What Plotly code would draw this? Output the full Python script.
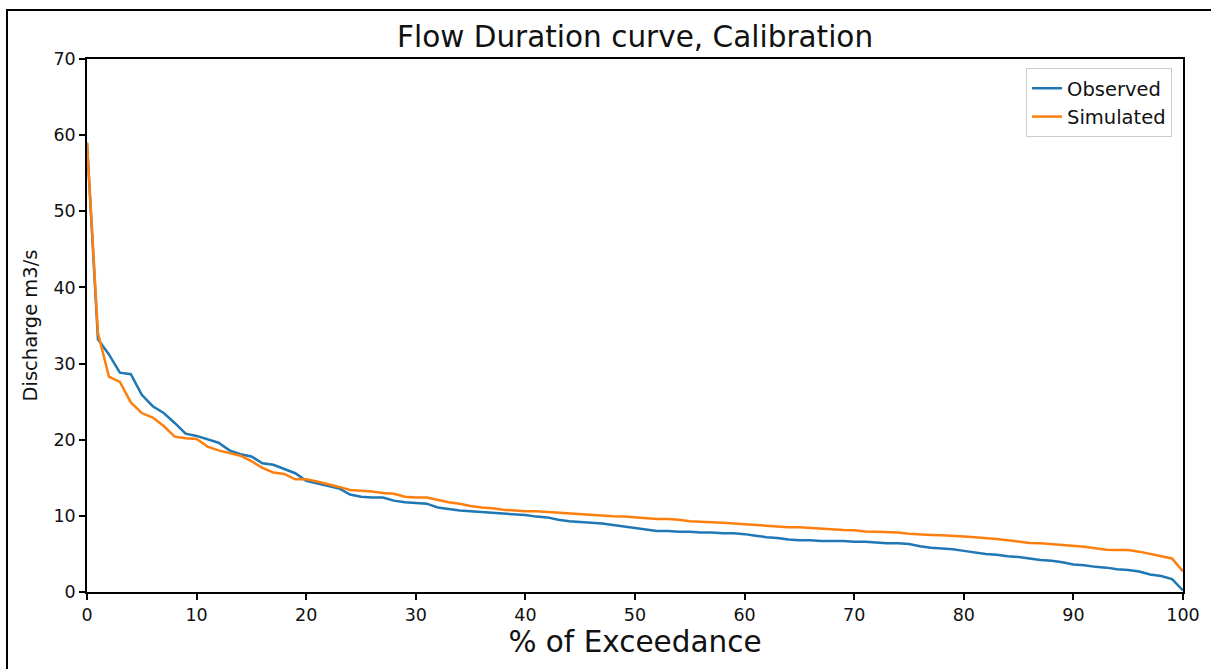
import plotly.graph_objects as go

exceedance = list(range(0, 101))

observed = [
    59.0, 33.2, 31.2, 28.8, 28.6, 25.9, 24.4, 23.5, 22.2, 20.8,
    20.5, 20.1, 19.6, 18.6, 18.1, 17.8, 16.9, 16.7, 16.2, 15.6,
    14.6, 14.3, 14.0, 13.6, 12.8, 12.5, 12.4, 12.4, 12.0, 11.8,
    11.7, 11.6, 11.1, 10.9, 10.7, 10.6, 10.5, 10.4, 10.3, 10.2,
    10.1, 9.9, 9.8, 9.5, 9.3, 9.2, 9.1, 9.0, 8.8, 8.6,
    8.4, 8.2, 8.0, 8.0, 7.9, 7.9, 7.8, 7.8, 7.7, 7.7,
    7.6, 7.4, 7.2, 7.1, 6.9, 6.8, 6.8, 6.7, 6.7, 6.7,
    6.6, 6.6, 6.5, 6.4, 6.4, 6.3, 6.0, 5.8, 5.7, 5.6,
    5.4, 5.2, 5.0, 4.9, 4.7, 4.6, 4.4, 4.2, 4.1, 3.9,
    3.6, 3.5, 3.3, 3.2, 3.0, 2.9, 2.7, 2.3, 2.1, 1.7,
    0.2,
]

simulated = [
    59.0, 34.0, 28.3, 27.6, 24.9, 23.5, 22.9, 21.8, 20.4, 20.2,
    20.1, 19.1, 18.6, 18.3, 17.9, 17.2, 16.3, 15.7, 15.5, 14.8,
    14.8, 14.5, 14.2, 13.8, 13.4, 13.3, 13.2, 13.0, 12.9, 12.5,
    12.4, 12.4, 12.1, 11.8, 11.6, 11.3, 11.1, 11.0, 10.8, 10.7,
    10.6, 10.6, 10.5, 10.4, 10.3, 10.2, 10.1, 10.0, 9.95, 9.9,
    9.8, 9.7, 9.6, 9.6, 9.5, 9.3, 9.2, 9.15, 9.1, 9.0,
    8.9, 8.8, 8.7, 8.6, 8.5, 8.5, 8.4, 8.3, 8.2, 8.15,
    8.1, 7.95, 7.9, 7.85, 7.8, 7.65, 7.55, 7.5, 7.45, 7.4,
    7.3, 7.2, 7.1, 6.95, 6.8, 6.6, 6.45, 6.4, 6.3, 6.15,
    6.05, 5.95, 5.75, 5.55, 5.5, 5.5, 5.3, 5.0, 4.6, 4.4,
    2.7,
]

FONT = "DejaVu Sans"

fig = go.Figure()
fig.add_trace(go.Scatter(x=exceedance, y=observed, mode="lines", name="Observed",
                         line=dict(color="#1f77b4", width=2.5)))
fig.add_trace(go.Scatter(x=exceedance, y=simulated, mode="lines", name="Simulated",
                         line=dict(color="#ff7f0e", width=2.5)))

axis_common = dict(
    showline=True, linecolor="black", linewidth=1.5, mirror=True,
    ticks="outside", ticklen=6, tickwidth=1.5, tickcolor="black",
    showgrid=False, zeroline=False,
    tickfont=dict(family=FONT, size=17.5, color="#111"),
)

fig.update_layout(
    width=1211, height=669,
    margin=dict(l=87, r=28, t=59, b=77),
    paper_bgcolor="white", plot_bgcolor="white",
    font=dict(family=FONT, color="#111"),
    title=dict(text="Flow Duration curve, Calibration", x=0.5244, xanchor="center",
               y=1 - 37 / 669, yanchor="middle", yref="container",
               font=dict(family=FONT, size=29.5, color="#111")),
    xaxis=dict(range=[0, 100], dtick=10, tick0=0,
               title=dict(text="% of Exceedance", font=dict(family=FONT, size=29.5, color="#111"),
                          standoff=8),
               **axis_common),
    yaxis=dict(range=[0, 70], dtick=10, tick0=0,
               title=dict(text="Discharge m3/s", font=dict(family=FONT, size=19.5, color="#111"),
                          standoff=11),
               **axis_common),
    legend=dict(x=0.990, y=0.983, xanchor="right", yanchor="top",
                bgcolor="white", bordercolor="#cccccc", borderwidth=1,
                font=dict(family=FONT, size=19.5, color="#111"),
                tracegroupgap=0),
    showlegend=True,
)

fig.add_shape(type="rect", xref="paper", yref="paper",
              x0=(7 - 87) / 1096, x1=1.2, y0=-0.4, y1=(592 - 10) / 533,
              line=dict(color="black", width=2), fillcolor="rgba(0,0,0,0)", layer="above")

fig.write_html("out.html")
